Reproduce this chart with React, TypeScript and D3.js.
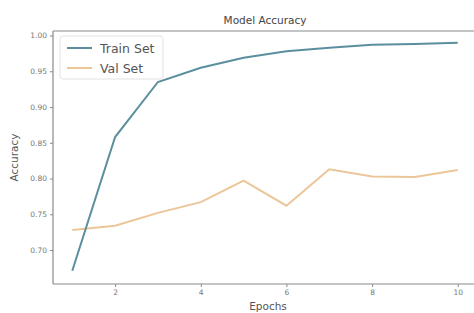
import React, { useEffect, useRef } from "react";
import * as d3 from "d3";

// Data
const epochs = [1, 2, 3, 4, 5, 6, 7, 8, 9, 10];
const trainAcc = [0.671, 0.858, 0.935, 0.955, 0.969, 0.978, 0.983, 0.987, 0.988, 0.99];
const valAcc = [0.728, 0.734, 0.752, 0.767, 0.797, 0.762, 0.813, 0.803, 0.802, 0.812];
const xTicks = [2, 4, 6, 8, 10];
const yTicks = [0.7, 0.75, 0.8, 0.85, 0.9, 0.95, 1.0];

const W = 474;
const H = 313;

const App = () => {
  const svgRef = useRef<SVGSVGElement>(null);

  useEffect(() => {
    const svg = d3.select(svgRef.current);
    svg.selectAll("*").remove();

    const left = 53, right = 477, top = 31, bottom = 284;
    const font = "DejaVu Sans, sans-serif";

    const x = d3.scaleLinear().domain([0.55, 10.45]).range([left, right]);
    const y = d3.scaleLinear().domain([0.6525, 1.0063]).range([bottom, top]);

    svg.append("rect").attr("width", W).attr("height", H).attr("fill", "#fff");

    // spines
    const spine = "#8a8a8a";
    svg.append("line").attr("x1", left).attr("x2", left).attr("y1", top).attr("y2", bottom)
      .attr("stroke", spine).attr("stroke-width", 1.2);
    svg.append("line").attr("x1", left).attr("x2", right).attr("y1", bottom).attr("y2", bottom)
      .attr("stroke", spine).attr("stroke-width", 1.2);
    svg.append("line").attr("x1", left).attr("x2", right).attr("y1", top).attr("y2", top)
      .attr("stroke", spine).attr("stroke-width", 1.2);

    // y axis
    const yAxis = svg.append("g").attr("transform", `translate(${left},0)`)
      .call(d3.axisLeft(y).tickValues(yTicks).tickFormat(d3.format(".2f")).tickSize(3).tickPadding(3));
    yAxis.select(".domain").remove();
    yAxis.selectAll("line").attr("stroke", spine);
    yAxis.selectAll("text").attr("fill", "#777").style("font-size", "7.5px").style("font-family", font);

    // x axis
    const xAxis = svg.append("g").attr("transform", `translate(0,${bottom})`)
      .call(d3.axisBottom(x).tickValues(xTicks).tickFormat(d3.format("d")).tickSize(3).tickPadding(3));
    xAxis.select(".domain").remove();
    xAxis.selectAll("line").attr("stroke", spine);
    xAxis.selectAll("text").attr("fill", "#777").style("font-size", "7.5px").style("font-family", font);

    const line = d3.line<number>().x((_, i) => x(epochs[i])).y((d) => y(d));

    svg.append("path").datum(valAcc).attr("d", line).attr("fill", "none")
      .attr("stroke", "#ecc699").attr("stroke-width", 2);
    svg.append("path").datum(trainAcc).attr("d", line).attr("fill", "none")
      .attr("stroke", "#5b8f9e").attr("stroke-width", 2);

    // title and labels
    svg.append("text").attr("x", (left + right) / 2).attr("y", 24).attr("text-anchor", "middle")
      .style("font-family", font).style("font-size", "10.5px").attr("fill", "#444").text("Model Accuracy");
    svg.append("text").attr("x", 268).attr("y", 310).attr("text-anchor", "middle")
      .style("font-family", font).style("font-size", "10.5px").attr("fill", "#555").text("Epochs");
    svg.append("text").attr("transform", `translate(18,${(top + bottom) / 2}) rotate(-90)`)
      .attr("text-anchor", "middle")
      .style("font-family", font).style("font-size", "10.5px").attr("fill", "#555").text("Accuracy");

    // legend
    const lg = svg.append("g").attr("transform", "translate(60,36)");
    lg.append("rect").attr("width", 103).attr("height", 43).attr("rx", 3)
      .attr("fill", "#fff").attr("fill-opacity", 0.85).attr("stroke", "#e2e2e2");
    const items = [
      { name: "Train Set", color: "#5b8f9e" },
      { name: "Val Set", color: "#ecc699" },
    ];
    items.forEach((it, i) => {
      const cy = 12 + i * 20;
      lg.append("line").attr("x1", 7).attr("x2", 32).attr("y1", cy).attr("y2", cy)
        .attr("stroke", it.color).attr("stroke-width", 2);
      lg.append("text").attr("x", 40).attr("y", cy + 4.5)
        .style("font-family", font).style("font-size", "12.5px").attr("fill", "#555").text(it.name);
    });
  }, []);

  return (
    <div style={{ position: "fixed", left: 0, top: 0 }}>
      <svg ref={svgRef} width={W} height={H} style={{ display: "block" }}></svg>
    </div>
  );
};

export default App;
